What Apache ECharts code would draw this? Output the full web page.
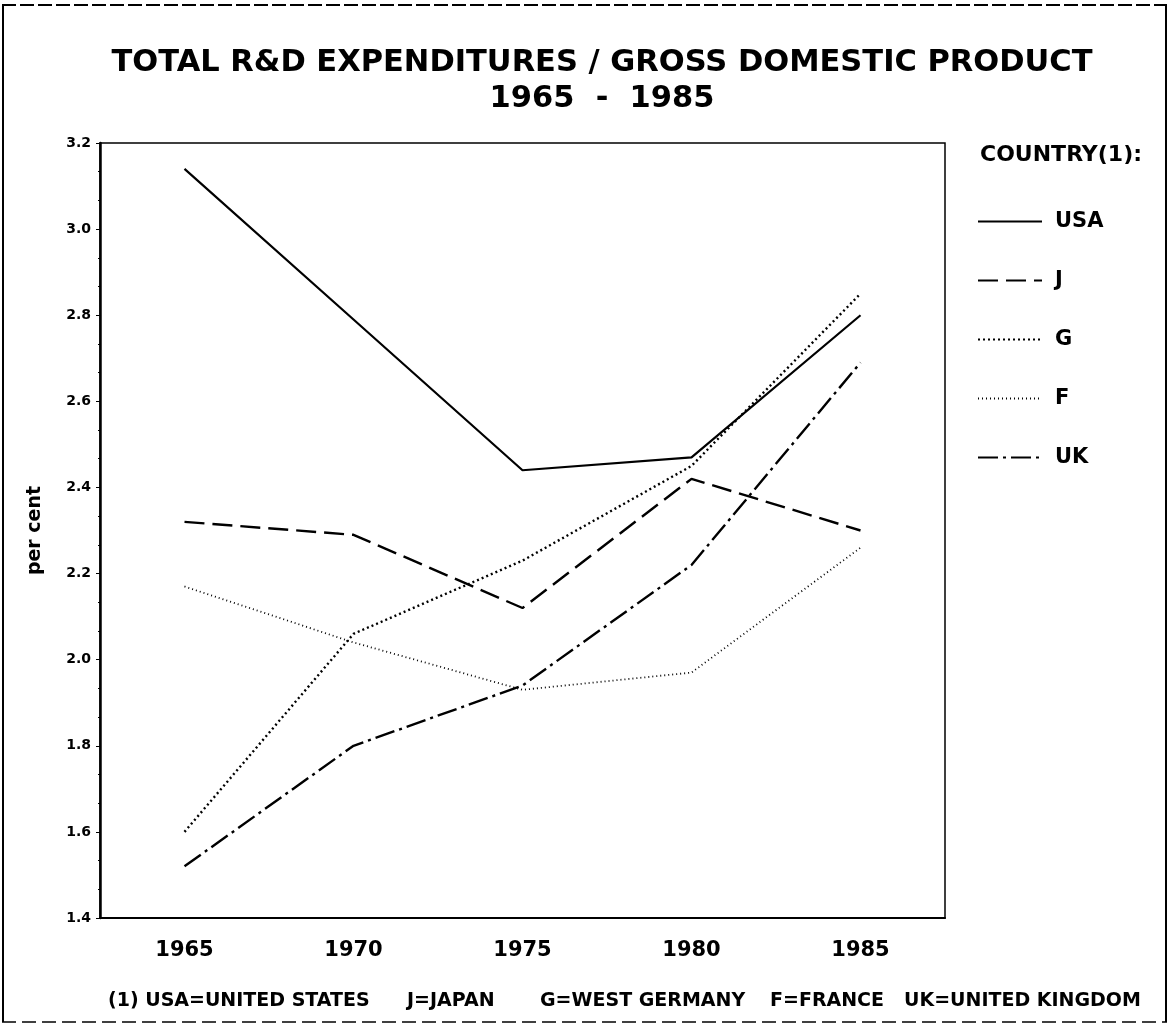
<!DOCTYPE html>
<html>
<head>
<meta charset="utf-8">
<script src="https://cdn.jsdelivr.net/npm/echarts@6/dist/echarts.min.js"></script>
<style>
  html, body { margin: 0; padding: 0; background: #fff; }
  #chart { width: 1169px; height: 1027px; }
</style>
</head>
<body>
<div id="chart"></div>
<script>
// categories
const years = ['1965', '1970', '1975', '1980', '1985'];

// R&D / GDP, per cent
const usa = [3.14, 2.79, 2.44, 2.47, 2.80];
const japan = [2.32, 2.29, 2.12, 2.42, 2.30];
const germany = [1.60, 2.06, 2.23, 2.45, 2.85];
const france = [2.17, 2.04, 1.93, 1.97, 2.26];
const uk = [1.52, 1.80, 1.94, 2.22, 2.69];

// footnote pieces
const notes = ['(1) USA=UNITED STATES', 'J=JAPAN', 'G=WEST GERMANY', 'F=FRANCE', 'UK=UNITED KINGDOM'];
const noteX = [108, 407, 540, 770, 904];

const FONT = '"DejaVu Sans", "Liberation Sans", sans-serif';

function makeSeries(name, data, type, width) {
  return {
    name: name,
    type: 'line',
    data: data,
    symbol: 'none',
    lineStyle: { color: '#000', width: width, type: type },
    itemStyle: { color: '#000' },
    z: 3
  };
}

const chart = echarts.init(document.getElementById('chart'));

const graphics = [
  {
    type: 'text', left: 980, top: 144,
    style: { text: 'COUNTRY(1):', fontFamily: FONT, fontWeight: 'bold', fontSize: 22, fill: '#000' }
  },
  { type: 'line', shape: { x1: 2, y1: 5, x2: 1167, y2: 5 }, style: { stroke: '#000', lineWidth: 2, lineDash: [14, 4] } },
  { type: 'line', shape: { x1: 2, y1: 1022, x2: 1167, y2: 1022 }, style: { stroke: '#000', lineWidth: 1.5, lineDash: [14, 6] } },
  { type: 'line', shape: { x1: 3, y1: 5, x2: 3, y2: 1022 }, style: { stroke: '#000', lineWidth: 2 } },
  { type: 'line', shape: { x1: 1166, y1: 5, x2: 1166, y2: 1022 }, style: { stroke: '#000', lineWidth: 2 } }
];
notes.forEach(function (t, i) {
  graphics.push({
    type: 'text', left: noteX[i], top: 992,
    style: { text: t, fontFamily: FONT, fontWeight: 'bold', fontSize: 19, fill: '#000' }
  });
});

const option = {
  animation: false,
  backgroundColor: '#fff',
  title: {
    text: 'TOTAL R&D EXPENDITURES / GROSS DOMESTIC PRODUCT\n1965  -  1985',
    left: 597,
    textAlign: 'center',
    top: 40,
    textStyle: { fontFamily: FONT, fontWeight: 'bold', fontSize: 30.5, color: '#000', lineHeight: 36 }
  },
  legend: {
    orient: 'vertical',
    left: 972,
    top: 206,
    itemWidth: 64,
    itemHeight: 16,
    itemGap: 38,
    data: ['USA', 'J', 'G', 'F', 'UK'],
    itemStyle: { opacity: 0 },
    textStyle: { fontFamily: FONT, fontWeight: 'bold', fontSize: 21, lineHeight: 16, color: '#000', padding: [0, 0, 0, 8] }
  },
  grid: {
    left: 100,
    right: 224,
    top: 143,
    bottom: 109,
    show: true,
    borderColor: '#000',
    borderWidth: 1.5
  },
  xAxis: {
    type: 'category',
    data: years,
    axisLine: { lineStyle: { color: '#000', width: 2 } },
    axisTick: { alignWithLabel: true, inside: true, length: 6, lineStyle: { color: '#000' } },
    axisLabel: { fontFamily: FONT, fontWeight: 'bold', fontSize: 21, color: '#000', margin: 22 },
    splitLine: { show: false }
  },
  yAxis: {
    type: 'value',
    min: 1.4,
    max: 3.2,
    interval: 0.2,
    name: 'per cent',
    nameLocation: 'middle',
    nameGap: 55,
    nameTextStyle: { fontFamily: FONT, fontWeight: 'bold', fontSize: 19, color: '#000' },
    axisLine: { show: true, lineStyle: { color: '#000', width: 2.5 } },
    axisTick: { show: true, length: 4, lineStyle: { color: '#000' } },
    minorTick: { show: true, splitNumber: 3, length: 2, lineStyle: { color: '#000' } },
    axisLabel: {
      fontFamily: FONT, fontWeight: 'bold', fontSize: 14, color: '#000', margin: 9,
      formatter: function (v) { return v.toFixed(1); }
    },
    splitLine: { show: false }
  },
  graphic: graphics,
  series: [
    makeSeries('USA', usa, 'solid', 2.2),
    makeSeries('J', japan, [20, 8], 2.4),
    makeSeries('G', germany, [2, 3], 2.4),
    makeSeries('F', france, [1, 3], 1.8),
    makeSeries('UK', uk, [20, 5, 3, 5], 2.4)
  ]
};

chart.setOption(option);
</script>
</body>
</html>
